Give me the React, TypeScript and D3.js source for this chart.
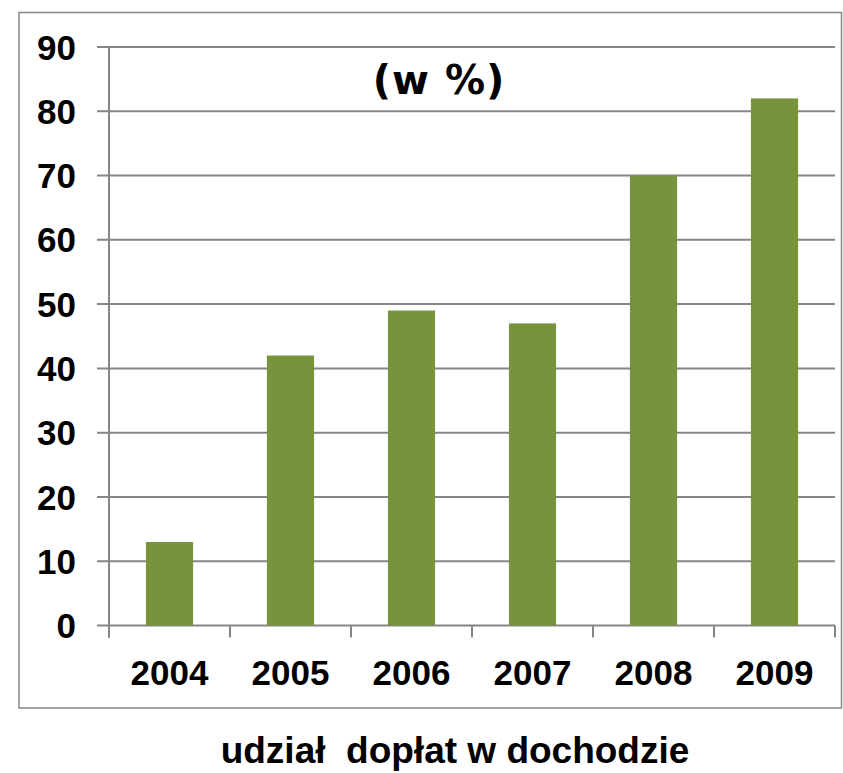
import * as d3 from "d3";

const YEARS = ["2004", "2005", "2006", "2007", "2008", "2009"];
const SHARE = [13, 42, 49, 47, 70, 82];
const Y_TICKS = [0, 10, 20, 30, 40, 50, 60, 70, 80, 90];
const TITLE = "(w %)";
const CAPTION = "udział  dopłat w dochodzie";

const W = 843;
const H = 773;
const margin = { left: 109, right: 8, top: 47, bottom: 147.5 };
const GRID = "#868686";
const BAR = "#77933C";
const FONT = "Arial, 'Liberation Sans', sans-serif";

const App = () => {
	const width = W - margin.left - margin.right;
	const height = H - margin.top - margin.bottom;

	const x = d3
		.scaleBand()
		.domain(YEARS)
		.range([0, width])
		.paddingInner(0.61)
		.paddingOuter(0.305);
	const y = d3.scaleLinear().domain([0, 90]).range([height, 0]);
	const step = x.step();

	return (
		<svg
			width={W}
			height={H}
			style={{ position: "absolute", left: 0, top: 0, background: "#fff" }}
		>
			{/* outer chart frame */}
			<rect
				x={19}
				y={12.5}
				width={822.5}
				height={695.5}
				fill="none"
				stroke={GRID}
				strokeWidth={1.5}
			/>
			<g transform={`translate(${margin.left},${margin.top})`}>
				{/* horizontal grid + y ticks */}
				{Y_TICKS.map((t) => (
					<g key={t}>
						<line
							x1={-12}
							x2={width}
							y1={y(t)}
							y2={y(t)}
							stroke={GRID}
							strokeWidth={2}
						/>
						<text
							x={-33}
							y={y(t)}
							dy="0.36em"
							textAnchor="end"
							fontFamily={FONT}
							fontWeight="bold"
							fontSize={35}
							fill="#000"
						>
							{t}
						</text>
					</g>
				))}
				{/* y axis */}
				<line x1={0} x2={0} y1={0} y2={height + 12} stroke={GRID} strokeWidth={2} />
				{/* x ticks on category boundaries */}
				{d3.range(YEARS.length + 1).map((i) => (
					<line
						key={i}
						x1={i * step}
						x2={i * step}
						y1={height}
						y2={height + 12}
						stroke={GRID}
						strokeWidth={2}
					/>
				))}
				{/* bars */}
				{YEARS.map((yr, i) => (
					<rect
						key={yr}
						x={x(yr)}
						y={y(SHARE[i])}
						width={x.bandwidth()}
						height={height - y(SHARE[i])}
						fill={BAR}
					/>
				))}
				{/* x labels */}
				{YEARS.map((yr) => (
					<text
						key={yr}
						x={(x(yr) ?? 0) + x.bandwidth() / 2}
						y={height + 59}
						textAnchor="middle"
						fontFamily={FONT}
						fontWeight="bold"
						fontSize={35}
						fill="#000"
					>
						{yr}
					</text>
				))}
			</g>
			<text
				x={439}
				y={94}
				textAnchor="middle"
				fontFamily="'DejaVu Sans', Verdana, sans-serif"
				fontWeight="bold"
				fontSize={40}
				letterSpacing={1}
				fill="#000"
			>
				{TITLE}
			</text>
			<text
				x={455}
				y={763}
				textAnchor="middle"
				fontFamily={FONT}
				fontWeight="bold"
				fontSize={37}
				fill="#000"
				style={{ whiteSpace: "pre" }}
			>
				{CAPTION}
			</text>
		</svg>
	);
};

export default App;
